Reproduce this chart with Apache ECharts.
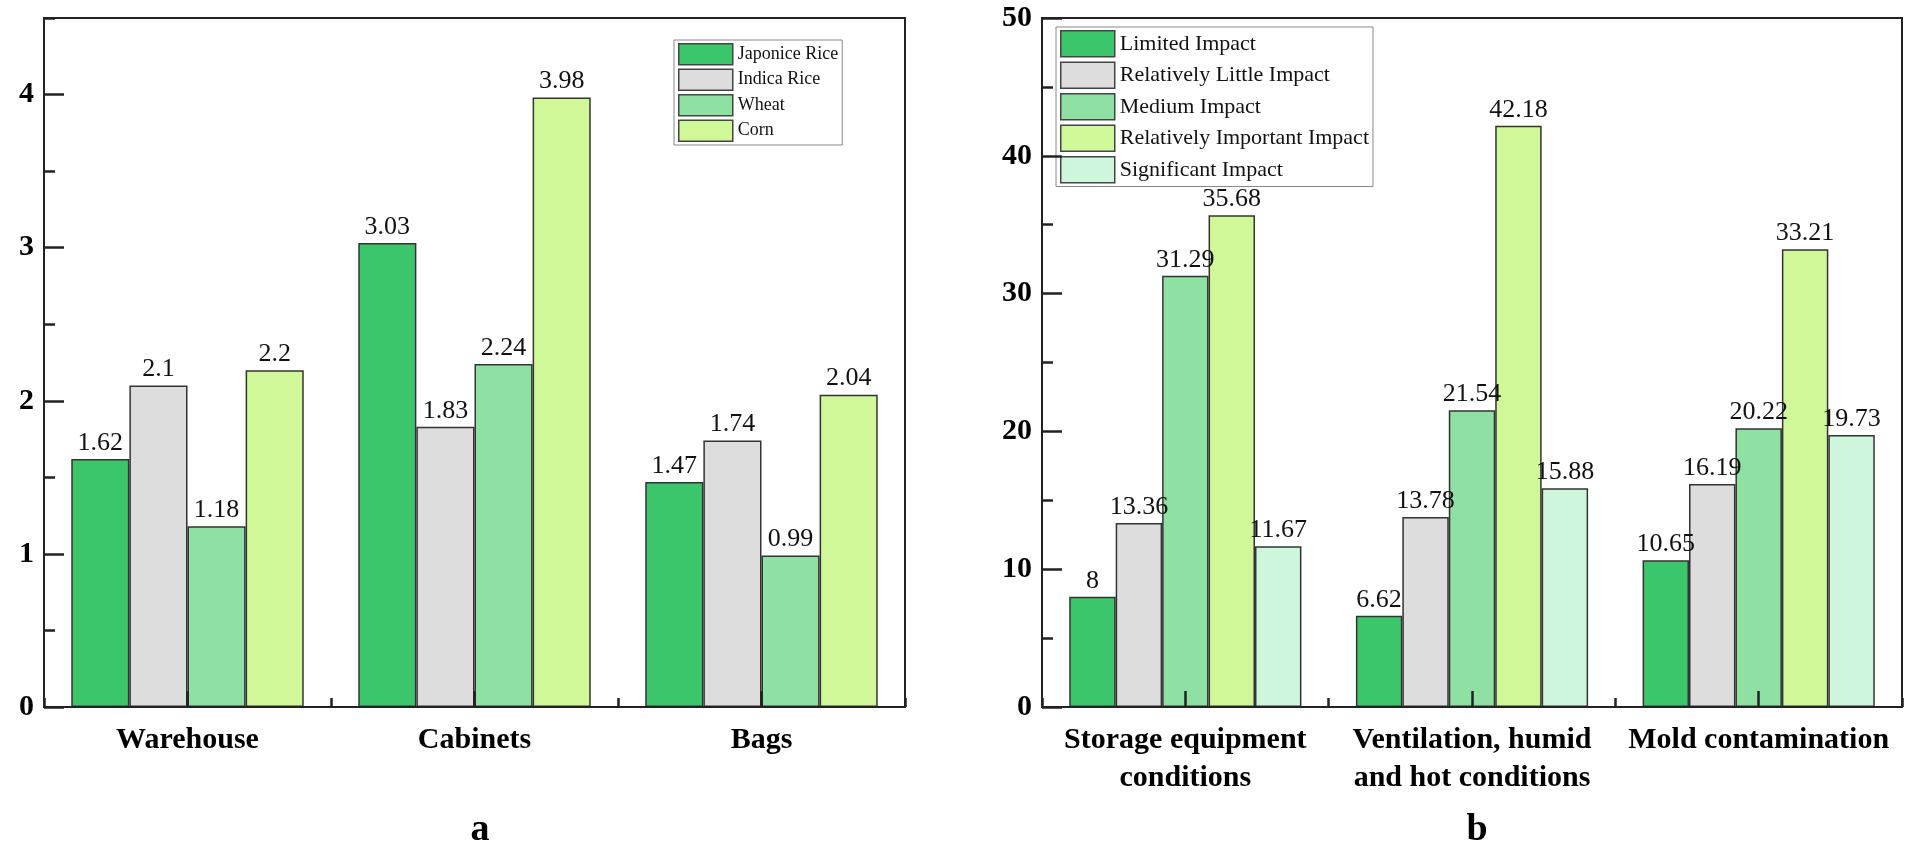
<!DOCTYPE html>
<html lang="en">
<head>
    <meta charset="utf-8">
    <title>Grain storage bars</title>
    <script src="https://cdn.jsdelivr.net/npm/echarts@6/dist/echarts.min.js"></script>
    <style>
        html, body { margin: 0; padding: 0; background: #fff; }
        #main { width: 1908px; height: 847px; }
    </style>
</head>
<body>
    <div id="main"></div>
    <script type="text/javascript">
        // panel a
        var grainCats = ['Warehouse', 'Cabinets', 'Bags'];
        var japonica = [1.62, 3.03, 1.47];
        var indica = [2.1, 1.83, 1.74];
        var wheat = [1.18, 2.24, 0.99];
        var corn = [2.2, 3.98, 2.04];
        var grainNames = ['Japonice Rice', 'Indica Rice', 'Wheat', 'Corn'];

        // panel b
        var factorCats = ['Storage equipment\nconditions', 'Ventilation, humid\nand hot conditions', 'Mold contamination'];
        var limited = [8, 6.62, 10.65];
        var little = [13.36, 13.78, 16.19];
        var medium = [31.29, 21.54, 20.22];
        var important = [35.68, 42.18, 33.21];
        var significant = [11.67, 15.88, 19.73];
        var impactNames = ['Limited Impact', 'Relatively Little Impact', 'Medium Impact',
            'Relatively Important Impact', 'Significant Impact'];

        var colors = ['#3cc66b', '#dddddd', '#8ee0a3', '#d0f899', '#cef6dc'];
        var serif = '"Times New Roman", "Liberation Serif", serif';

        var myChart = echarts.init(document.getElementById('main'));

        var grids = [
            { left: 44, right: 1003, top: 18, bottom: 140 },
            { left: 1042, right: 6, top: 18, bottom: 140 }
        ];
        for (var g = 0; g < grids.length; g++) {
            grids[g].show = true;
            grids[g].borderColor = '#222';
            grids[g].borderWidth = 2;
        }

        var xAxes = [], yAxes = [], series = [];

        function addPanel(gi, cats, yMax, yStep, names, values) {
            // category axis: centre ticks + labels
            xAxes.push({
                type: 'category', gridIndex: gi, data: cats, z: 10, position: 'bottom',
                axisLine: { show: true, lineStyle: { color: '#222', width: 2 } },
                axisTick: { show: true, inside: true, alignWithLabel: true, length: 16, lineStyle: { color: '#222', width: 2.5 } },
                axisLabel: { interval: 0, color: '#000', fontFamily: serif, fontWeight: 'bold', fontSize: 30, lineHeight: 38, margin: 14 }
            });
            // same categories, short ticks on the group boundaries
            xAxes.push({
                type: 'category', gridIndex: gi, data: cats, z: 10, position: 'bottom',
                axisLine: { show: false },
                axisTick: { show: true, inside: true, length: 9, lineStyle: { color: '#222', width: 2.5 } },
                axisLabel: { show: false }
            });
            // value labels, long ticks
            yAxes.push({
                type: 'value', gridIndex: gi, min: 0, max: yMax, interval: yStep, z: 10, position: 'left',
                splitLine: { show: false },
                axisLine: { show: true, lineStyle: { color: '#222', width: 2 } },
                axisTick: { show: true, inside: true, length: 20, lineStyle: { color: '#222', width: 2.5 } },
                axisLabel: { showMaxLabel: yMax % yStep === 0, color: '#000', fontFamily: serif, fontWeight: 'bold', fontSize: 30, margin: 10 }
            });
            // half-step short ticks
            yAxes.push({
                type: 'value', gridIndex: gi, min: 0, max: yMax, interval: yStep / 2, z: 10, position: 'left',
                splitLine: { show: false },
                axisLine: { show: false },
                axisTick: { show: true, inside: true, length: 11, lineStyle: { color: '#222', width: 2.5 } },
                axisLabel: { show: false }
            });
            for (var i = 0; i < names.length; i++) {
                series.push({
                    name: names[i], type: 'bar',
                    xAxisIndex: gi * 2, yAxisIndex: gi * 2,
                    data: values[i],
                    barGap: 0, barCategoryGap: '19%',
                    itemStyle: { color: colors[i], borderColor: '#333', borderWidth: 1.5 },
                    label: { show: true, position: 'top', distance: 3, color: '#111', fontFamily: serif, fontSize: 26 }
                });
            }
        }

        addPanel(0, grainCats, 4.5, 1, grainNames, [japonica, indica, wheat, corn]);
        addPanel(1, factorCats, 50, 10, impactNames, [limited, little, medium, important, significant]);

        var legendBase = {
            orient: 'vertical', icon: 'rect',
            backgroundColor: '#fff', borderColor: '#888', borderWidth: 1,
            itemStyle: { borderColor: '#444', borderWidth: 1.5 }
        };

        myChart.setOption({
            animation: false,
            grid: grids,
            xAxis: xAxes,
            yAxis: yAxes,
            series: series,
            legend: [
                Object.assign({}, legendBase, {
                    data: grainNames, left: 674, top: 40, padding: [3, 4, 3, 4],
                    itemWidth: 54, itemHeight: 21, itemGap: 3,
                    textStyle: { fontFamily: serif, fontSize: 18, color: '#111' }
                }),
                Object.assign({}, legendBase, {
                    data: impactNames, left: 1056, top: 27, padding: [3, 4, 3, 4],
                    itemWidth: 54, itemHeight: 26, itemGap: 4,
                    textStyle: { fontFamily: serif, fontSize: 22, color: '#111' }
                })
            ],
            title: [
                { text: 'a', left: 475, top: 806, textAlign: 'center',
                  textStyle: { fontFamily: serif, fontWeight: 'bold', fontSize: 38, color: '#000' } },
                { text: 'b', left: 1472, top: 806, textAlign: 'center',
                  textStyle: { fontFamily: serif, fontWeight: 'bold', fontSize: 38, color: '#000' } }
            ]
        });
    </script>
</body>
</html>
